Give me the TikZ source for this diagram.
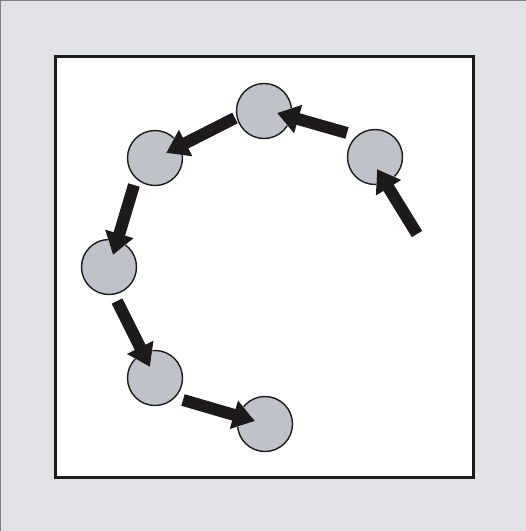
\documentclass[tikz,border=0pt]{standalone}
\usetikzlibrary{arrows.meta}
\definecolor{matte}{HTML}{E1E2E6}
\definecolor{disc}{HTML}{BFC3C9}
\definecolor{ink}{HTML}{1C1A1B}

\begin{document}
\begin{tikzpicture}[x=1pt,y=-1pt,
  puck/.style={circle,draw=ink,line width=1.4pt,fill=disc,minimum size=55pt,inner sep=0pt},
  push/.style={draw=ink,line width=12pt,-{Triangle[length=22pt,width=28pt]},
    preaction={draw=white,line width=12pt,-{Triangle[length=25pt,width=33pt]}}}]
  \useasboundingbox (0,0) rectangle (526,531);
  % frame
  \fill[matte] (0,0) rectangle (526,531);
  \draw[gray,line width=1pt] (0.8,531) -- (0.8,0.8) -- (526,0.8);
  \draw[ink,line width=3pt,fill=white] (55,56.5) rectangle (473.5,477);
  % pucks
  \node[puck] (p1) at (375,157) {};
  \node[puck] (p2) at (264,111) {};
  \node[puck] (p3) at (155,158) {};
  \node[puck] (p4) at (109,267) {};
  \node[puck] (p5) at (155,378) {};
  \node[puck] (p6) at (265,424) {};
  % tails
  \coordinate (s1) at (417,234);
  \coordinate (s2) at (347,133);
  \coordinate (s3) at (235,118);
  \coordinate (s4) at (134,185);
  \coordinate (s5) at (117,301);
  \coordinate (s6) at (183,400);
  \draw[push] (s1) -- ([shift={(2,12)}]p1.center);
  \draw[push] (s2) -- ([shift={(13,2)}]p2.center);
  \draw[push] (s3) -- ([shift={(11,-5)}]p3.center);
  \draw[push] (s4) -- ([shift={(4,-12)}]p4.center);
  \draw[push] (s5) -- ([shift={(-5,-11)}]p5.center);
  \draw[push] (s6) -- ([shift={(-10,-3)}]p6.center);
\end{tikzpicture}
\end{document}
